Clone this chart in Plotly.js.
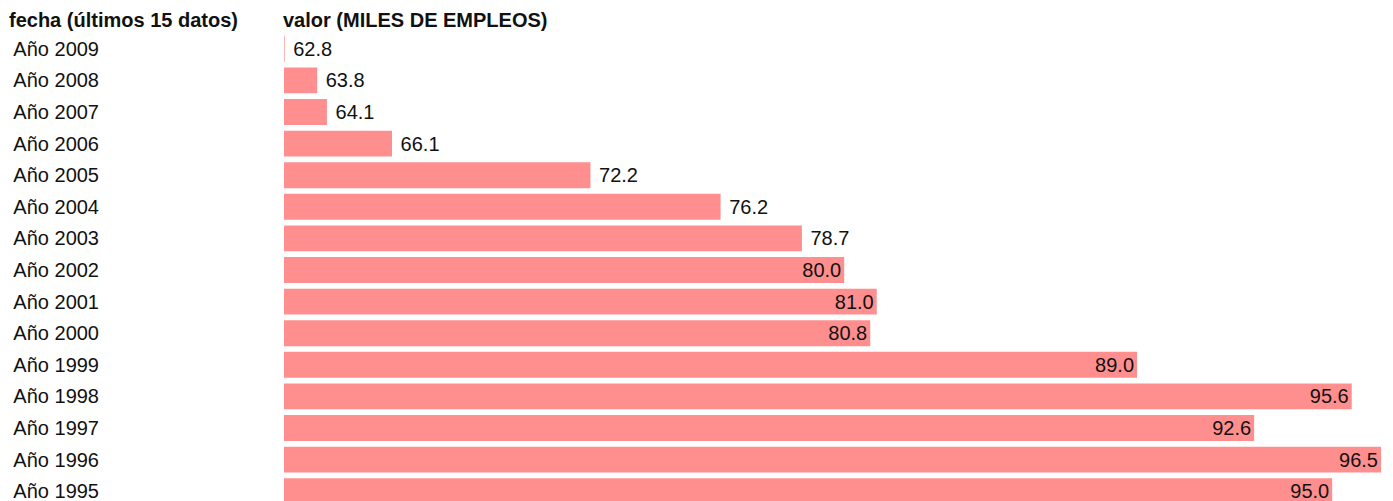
<!DOCTYPE html>
<html>
<head>
<meta charset="utf-8">
<script src="https://cdn.plot.ly/plotly-3.0.1.min.js"></script>
<style>html,body{margin:0;padding:0;background:#fff;}#chart{width:1393px;height:501px;}</style>
</head>
<body>
<div id="chart"></div>
<script>
const categories = ["Año 2009","Año 2008","Año 2007","Año 2006","Año 2005","Año 2004","Año 2003","Año 2002","Año 2001","Año 2000","Año 1999","Año 1998","Año 1997","Año 1996","Año 1995"];
const values = [62.8, 63.8, 64.1, 66.1, 72.2, 76.2, 78.7, 80.0, 81.0, 80.8, 89.0, 95.6, 92.6, 96.5, 95.0];
const headerLeft = "fecha (últimos 15 datos)";
const headerRight = "valor (MILES DE EMPLEOS)";

const FONT = "Liberation Sans, Arial, sans-serif";
const insideThreshold = 80;
const labels = values.map(v => v.toFixed(1));
const positions = values.map(v => v >= insideThreshold ? "inside" : "outside");
const templates = values.map(v => v >= insideThreshold ? "%{text}" : " %{text}");

const trace = {
  type: "bar",
  orientation: "h",
  y: categories,
  x: values,
  text: labels,
  texttemplate: templates,
  textposition: positions,
  insidetextanchor: "end",
  textfont: {family: FONT, size: 20, color: "#111"},
  insidetextfont: {family: FONT, size: 20, color: "#111"},
  outsidetextfont: {family: FONT, size: 20, color: "#111"},
  constraintext: "none",
  cliponaxis: false,
  marker: {color: "#FF8F8F", line: {width: 0}},
  hoverinfo: "none"
};

const layout = {
  width: 1393,
  height: 501,
  margin: {l: 284, r: 12, t: 33, b: 0, pad: 0},
  paper_bgcolor: "#fff",
  plot_bgcolor: "#fff",
  showlegend: false,
  bargap: 0.18,
  font: {family: FONT, size: 20, color: "#111"},
  xaxis: {
    range: [62.78, 96.5],
    visible: false,
    fixedrange: true
  },
  yaxis: {
    type: "category",
    categoryorder: "array",
    categoryarray: categories,
    range: [14.31, -0.5],
    showgrid: false,
    zeroline: false,
    showline: false,
    ticks: "",
    ticklabelstandoff: 184,
    tickfont: {family: FONT, size: 20, color: "#111"},
    automargin: false,
    fixedrange: true
  },
  annotations: [
    {text: "<b>" + headerLeft + "</b>", xref: "paper", yref: "paper", x: -0.2522, y: 1, xanchor: "left", yanchor: "bottom", showarrow: false, font: {family: FONT, size: 20, color: "#111"}},
    {text: "<b>" + headerRight + "</b>", xref: "paper", yref: "paper", x: -0.0027, y: 1, xanchor: "left", yanchor: "bottom", showarrow: false, font: {family: FONT, size: 20, color: "#111"}}
  ]
};

Plotly.newPlot("chart", [trace], layout, {displayModeBar: false, staticPlot: true});
</script>
</body>
</html>
